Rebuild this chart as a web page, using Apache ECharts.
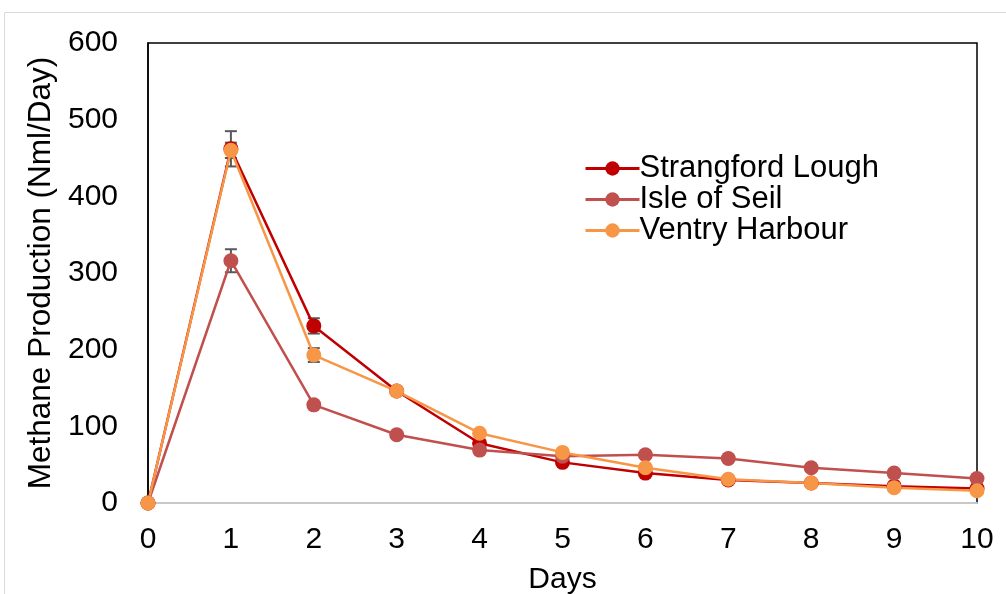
<!DOCTYPE html>
<html>
<head>
<meta charset="utf-8">
<script src="https://cdn.jsdelivr.net/npm/echarts@6/dist/echarts.min.js"></script>
<style>html,body{margin:0;padding:0;background:#fff}#c{width:1006px;height:594px}</style>
</head>
<body>
<div id="c"></div>
<script>
const days = [0,1,2,3,4,5,6,7,8,9,10];
const yTicks = [0,100,200,300,400,500,600];
const strangford = [0,462,231,146,78,53,39,30,26,22,19];
const isleOfSeil = [0,316,128,89,69,61,63,58,46,39,32];
const ventry = [0,460,193,146,91,66,46,31,26,20,16];
const errStrangford = [0,23,10,4,0,0,0,0,0,0,0];
const errIsle = [0,15,0,0,0,0,0,0,0,0,0];
const errVentry = [0,10,9,3,0,0,0,0,0,0,0];
const seriesNames = ['Strangford Lough','Isle of Seil','Ventry Harbour'];
const colors = ['#C00000','#C0504D','#F79646'];

const FONT = 'Liberation Sans, Arial, sans-serif';
const chart = echarts.init(document.getElementById('c'));

function pairs(vals){ return days.map((d,i)=>[d, vals[i]]); }
function errData(vals, errs){
  const out = [];
  days.forEach((d,i)=>{ if (errs[i] > 0) out.push([d, vals[i]-errs[i], vals[i]+errs[i]]); });
  return out;
}
function errSeries(vals, errs){
  return {
    type: 'custom', z: 1, silent: true,
    data: errData(vals, errs),
    renderItem: function(params, api){
      const lo = api.coord([api.value(0), api.value(1)]);
      const hi = api.coord([api.value(0), api.value(2)]);
      const w = 6;
      const st = {stroke:'#595959', lineWidth:2};
      return {type:'group', children:[
        {type:'line', shape:{x1:lo[0],y1:lo[1],x2:hi[0],y2:hi[1]}, style:st},
        {type:'line', shape:{x1:lo[0]-w,y1:lo[1],x2:lo[0]+w,y2:lo[1]}, style:st},
        {type:'line', shape:{x1:hi[0]-w,y1:hi[1],x2:hi[0]+w,y2:hi[1]}, style:st}
      ]};
    }
  };
}
function lineSeries(name, vals, color){
  return {
    name: name, type: 'line', z: 3, data: pairs(vals),
    symbol: 'circle', symbolSize: 15,
    itemStyle: {color: color},
    lineStyle: {color: color, width: 2.5},
    emphasis: {disabled: true}
  };
}

chart.setOption({
  animation: false,
  backgroundColor: '#fff',
  graphic: [{type:'rect', shape:{x:4.5,y:12.5,width:1010,height:600}, style:{fill:'none', stroke:'#d9d9d9', lineWidth:1}, z:-10}],
  grid: {left:148, right:29, top:43, bottom:91, outerBoundsMode:'none', containLabel:false,
    show:true, borderColor:'#000', borderWidth:1.5, backgroundColor:'transparent'},
  legend: {
    show: true, orient:'vertical', left: 579, top: 148, itemGap: 0,
    itemWidth: 54, itemHeight: 18,
    lineStyle: {width: 3},
    textStyle: {fontFamily: FONT, fontSize: 31, color:'#000', padding:[0,0,0,-5]},
    data: seriesNames
  },
  xAxis: {
    type:'value', min:0, max:10, interval:1,
    name:'Days', nameLocation:'middle', nameGap: 62,
    nameTextStyle:{fontFamily:FONT, fontSize:30, color:'#000'},
    axisLine:{show:true, lineStyle:{color:'#c8c8c8', width:2}},
    axisTick:{show:false}, splitLine:{show:false},
    axisLabel:{fontFamily:FONT, fontSize:30, color:'#000', margin:22,
      formatter:(v)=> days.includes(v) ? String(v) : ''}
  },
  yAxis: {
    type:'value', min:0, max:600, interval:100,
    name:'Methane Production (Nml/Day)', nameLocation:'middle', nameGap: 90, nameRotate: 90,
    nameTextStyle:{fontFamily:FONT, fontSize:31.5, color:'#000'},
    axisLine:{show:true, lineStyle:{color:'#000', width:1.5}},
    axisTick:{show:false}, splitLine:{show:false},
    axisLabel:{fontFamily:FONT, fontSize:30, color:'#000', margin:30,
      formatter:(v)=> yTicks.includes(v) ? String(v) : ''}
  },
  series: [
    errSeries(strangford, errStrangford),
    errSeries(isleOfSeil, errIsle),
    errSeries(ventry, errVentry),
    lineSeries(seriesNames[0], strangford, colors[0]),
    lineSeries(seriesNames[1], isleOfSeil, colors[1]),
    lineSeries(seriesNames[2], ventry, colors[2])
  ]
});
</script>
</body>
</html>
